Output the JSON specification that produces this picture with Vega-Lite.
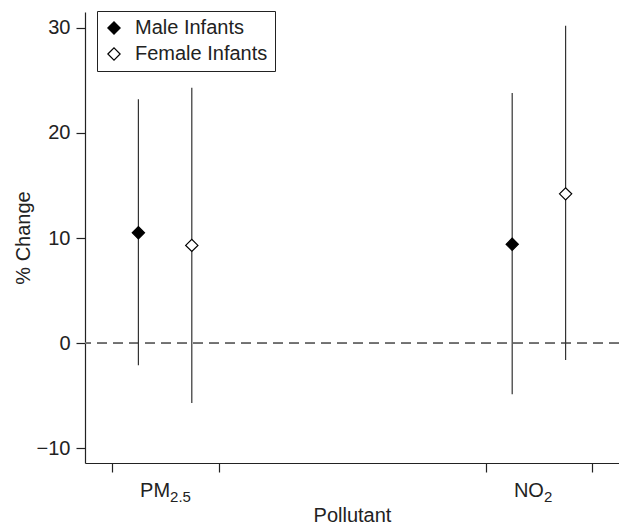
{
  "$schema": "https://vega.github.io/schema/vega-lite/v6.json",
  "width": 534,
  "height": 451,
  "autosize": {"type": "none"},
  "padding": {"left": 85, "top": 12, "right": 0, "bottom": 62},
  "background": "white",
  "config": {
    "font": "Liberation Sans",
    "view": {"stroke": null},
    "axis": {
      "grid": false,
      "domainColor": "#222",
      "domainWidth": 1.2,
      "tickColor": "#222",
      "tickWidth": 1.2,
      "tickSize": 9,
      "labelColor": "#222",
      "titleColor": "#222",
      "labelFontSize": 20,
      "titleFontSize": 20,
      "titleFontWeight": "normal"
    }
  },
  "datasets": {
    "estimates": [
      {"pollutant": "PM2.5", "sex": "Male Infants", "pos": 1, "est": 10.5, "lo": -2.1, "hi": 23.2},
      {"pollutant": "PM2.5", "sex": "Female Infants", "pos": 2, "est": 9.3, "lo": -5.7, "hi": 24.3},
      {"pollutant": "NO2", "sex": "Male Infants", "pos": 8, "est": 9.4, "lo": -4.85, "hi": 23.8},
      {"pollutant": "NO2", "sex": "Female Infants", "pos": 9, "est": 14.2, "lo": -1.6, "hi": 30.2}
    ],
    "labels": [
      {"pos": 1.5, "main": "PM", "sub": "2.5"},
      {"pos": 8.5, "main": "NO", "sub": "2"}
    ]
  },
  "data": {"name": "estimates"},
  "layer": [
    {
      "mark": {"type": "rule", "strokeDash": [10, 6], "color": "#707070", "strokeWidth": 1.5},
      "encoding": {
        "y": {"datum": 0, "type": "quantitative"}
      }
    },
    {
      "mark": {"type": "rule", "color": "#333", "strokeWidth": 1.2},
      "encoding": {
        "x": {
          "field": "pos",
          "type": "quantitative",
          "scale": {"domain": [0, 10], "nice": false, "zero": false},
          "axis": {
            "title": "Pollutant",
            "values": [0.5, 2.5, 7.5, 9.5],
            "labels": false,
            "titleBaseline": "alphabetic",
            "titleY": 58
          }
        },
        "y": {
          "field": "lo",
          "type": "quantitative",
          "scale": {"domain": [-11.4, 31.5], "nice": false, "zero": false},
          "axis": {
            "title": "% Change",
            "values": [-10, 0, 10, 20, 30],
            "labelPadding": 6,
            "titleBaseline": "alphabetic",
            "titleX": -56
          }
        },
        "y2": {"field": "hi"}
      }
    },
    {
      "mark": {"type": "point", "shape": "diamond", "size": 150, "filled": true, "opacity": 1, "stroke": "black", "strokeWidth": 1.2},
      "encoding": {
        "x": {"field": "pos", "type": "quantitative"},
        "y": {"field": "est", "type": "quantitative"},
        "fill": {
          "field": "sex",
          "type": "nominal",
          "scale": {"domain": ["Male Infants", "Female Infants"], "range": ["black", "white"]},
          "legend": {
            "title": null,
            "orient": "none",
            "legendX": 12,
            "legendY": -1,
            "strokeColor": "#222",
            "fillColor": "white",
            "padding": 7,
            "labelFontSize": 20,
            "labelColor": "#222",
            "symbolType": "diamond",
            "symbolSize": 150,
            "symbolStrokeColor": "black",
            "symbolStrokeWidth": 1.2,
            "symbolOpacity": 1,
            "rowPadding": 6,
            "labelOffset": 11
          }
        }
      }
    },
    {
      "data": {"name": "labels"},
      "mark": {"type": "text", "align": "right", "baseline": "alphabetic", "fontSize": 20, "color": "#222", "dx": 5, "dy": 34},
      "encoding": {
        "x": {"field": "pos", "type": "quantitative"},
        "y": {"datum": -11.4, "type": "quantitative"},
        "text": {"field": "main"}
      }
    },
    {
      "data": {"name": "labels"},
      "mark": {"type": "text", "align": "left", "baseline": "alphabetic", "fontSize": 15, "color": "#222", "dx": 5, "dy": 39},
      "encoding": {
        "x": {"field": "pos", "type": "quantitative"},
        "y": {"datum": -11.4, "type": "quantitative"},
        "text": {"field": "sub"}
      }
    }
  ]
}
